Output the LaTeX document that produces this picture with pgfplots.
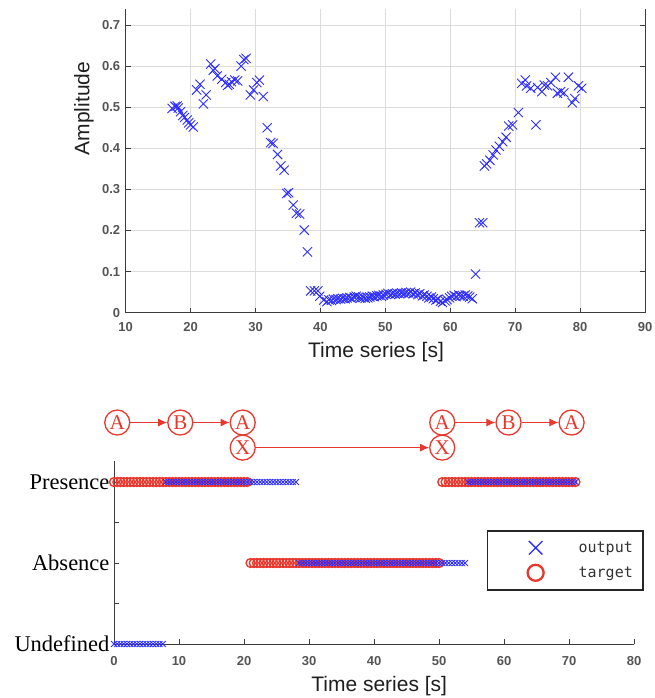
\documentclass[border=0pt]{standalone}
\usepackage{pgfplots}
\pgfplotsset{compat=1.18}
\usetikzlibrary{arrows.meta}
\usepackage{fontspec}
\setmainfont{Liberation Sans}
\newfontfamily\timesfont{Liberation Serif}
\newfontfamily\legfont{DejaVu Sans Mono}
\definecolor{mblue}{RGB}{45,45,255}
\definecolor{mred}{RGB}{232,56,46}
\definecolor{tickgray}{RGB}{85,85,85}
\definecolor{axgray}{RGB}{60,60,60}
\definecolor{gridgray}{RGB}{220,220,220}
\newcommand\tickfont{\fontsize{13}{13}\selectfont\bfseries}
\newcommand\labfont{\fontsize{21}{21}\selectfont}
\tikzset{st/.style={circle, draw=mred, line width=1.3pt, inner sep=0pt, minimum size=25pt, text=mred, font=\timesfont\fontsize{21}{21}\selectfont},
  arr/.style={mred, line width=1pt, -{Latex[length=9pt,width=8pt]}}}
\begin{document}
\begin{tikzpicture}
\useasboundingbox (0,0) rectangle (654pt,698pt);
% ---------------- top panel ----------------
\begin{axis}[
  at={(125.7pt,385.3pt)}, anchor=south west,
  scale only axis, width=519.3pt, height=304.1pt,
  xmin=10, xmax=90, ymin=0, ymax=0.74,
  xtick={10,20,30,40,50,60,70,80,90},
  ytick={0,0.1,0.2,0.3,0.4,0.5,0.6,0.7},
  axis x line*=bottom, axis y line*=box,
  tick align=inside, major tick length=5pt,
  axis line style={axgray, line width=1pt},
  every tick/.style={axgray, line width=0.8pt},
  grid=major, major grid style={gridgray, line width=0.7pt},
  /pgf/number format/assume math mode=true,
  /pgf/number format/fixed, /pgf/number format/precision=1,
  ticklabel style={font=\tickfont, text=tickgray},
  yticklabel style={xshift=-2pt},
  xticklabel style={yshift=-6.4pt},
  ylabel={Amplitude}, xlabel={Time series [s]},
  label style={font=\labfont, text=black!88},
  ylabel style={at={(axis description cs:-0.0803,0.671)}, anchor=center, rotate=0},
  xlabel style={at={(axis description cs:0.482,-0.129)}, anchor=center},
]
\addplot[only marks, mark=x, mark size=6.5pt, mblue, mark options={line width=0.9pt}] coordinates {
(17.15,0.497)(17.6,0.502)(17.93,0.503)(18.1,0.498)(18.45,0.489)(18.8,0.480)(19.07,0.475)(19.48,0.469)(19.7,0.462)(20.0,0.457)(20.4,0.452)
(20.93,0.542)(21.45,0.556)(21.97,0.508)(22.4,0.530)(23.1,0.605)(23.5,0.590)(23.75,0.594)(24.1,0.576)(24.8,0.568)(25.4,0.560)(25.7,0.553)(25.96,0.556)
(26.3,0.562)(26.8,0.566)(27.25,0.564)(27.77,0.600)(28.2,0.616)(28.55,0.619)(29.2,0.530)(29.7,0.542)(30.2,0.560)(30.6,0.566)(31.2,0.526)
(31.8,0.450)(32.33,0.414)(32.7,0.412)(33.4,0.385)(33.9,0.357)(34.4,0.347)(34.8,0.290)(35.1,0.292)(35.8,0.262)(36.3,0.242)(36.8,0.240)
(37.5,0.201)(38.0,0.148)(38.5,0.053)(39.07,0.053)(39.6,0.053)(39.9,0.040)(40.5,0.031)(41.0,0.027)
(41.3,0.031)(41.7,0.030)(42.0,0.033)(42.4,0.032)(42.7,0.034)(43.1,0.033)(43.4,0.035)(43.8,0.034)(44.1,0.036)(44.5,0.037)(44.8,0.035)
(45.2,0.038)(45.5,0.040)(45.9,0.038)(46.2,0.036)(46.6,0.037)(46.9,0.035)(47.3,0.036)(47.6,0.038)(48.0,0.040)(48.3,0.039)(48.7,0.041)
(49.0,0.042)(49.4,0.040)(49.7,0.043)(50.1,0.045)(50.4,0.047)(50.8,0.044)(51.1,0.046)(51.5,0.045)(51.8,0.047)(52.2,0.046)(52.5,0.048)
(52.9,0.047)(53.2,0.049)(53.6,0.048)(53.9,0.050)(54.3,0.046)(54.6,0.048)(55.0,0.044)(55.3,0.046)(55.7,0.041)(56.0,0.043)(56.4,0.040)
(56.7,0.036)(57.1,0.038)(57.4,0.034)(57.8,0.031)(58.1,0.033)(58.5,0.028)(58.8,0.025)(59.2,0.029)(59.5,0.032)(59.9,0.036)(60.2,0.040)
(60.6,0.042)(60.9,0.039)(61.3,0.043)(61.6,0.041)(62.0,0.040)(62.3,0.043)(62.7,0.041)(63.0,0.038)(63.4,0.034)
(63.9,0.094)(64.5,0.219)(65.0,0.219)(65.26,0.357)(65.6,0.362)(66.1,0.371)(66.6,0.384)(67.05,0.396)(67.56,0.405)(68.07,0.416)(68.6,0.427)
(69.0,0.454)(69.6,0.457)(70.5,0.487)(71.0,0.558)(71.55,0.566)(71.75,0.552)(72.4,0.546)(73.2,0.457)(73.45,0.548)(74.1,0.538)(74.5,0.554)
(75.0,0.552)(75.5,0.560)(76.2,0.573)(76.5,0.534)(77.0,0.538)(77.5,0.535)(78.2,0.573)(78.8,0.511)(79.2,0.521)(79.75,0.552)(80.26,0.546)
};
\end{axis}
% ---------------- bottom panel ----------------
\begin{axis}[
  at={(114pt,54pt)}, anchor=south west,
  scale only axis, width=520pt, height=183pt,
  xmin=0, xmax=80, ymin=0, ymax=2.26,
  axis lines*=left, clip=false,
  tick align=inside, major tick length=5pt,
  axis line style={axgray, line width=1pt},
  every tick/.style={axgray, line width=0.8pt},
  xtick={0,10,20,30,40,50,60,70,80},
  ytick={0,0.5,1,1.5,2},
  yticklabels={Undefined,,Absence,,Presence},
  /pgf/number format/assume math mode=true,
  xticklabel style={font=\tickfont, text=tickgray, yshift=-8.7pt},
  yticklabel style={font=\timesfont\fontsize{22.5}{22.5}\selectfont, text=black, xshift=-1pt},
  xlabel={Time series [s]},
  xlabel style={font=\labfont, text=black!88, at={(axis description cs:0.51,-0.2295)}, anchor=center},
  legend style={at={(axis description cs:0.717,0.623)}, anchor=north west,
    draw=black!85, line width=1.6pt, fill=white,
    inner xsep=8pt, inner ysep=4.5pt, row sep=0pt,
    font=\legfont\fontsize{15}{15}\selectfont, text=black!80,
    /tikz/every odd column/.append style={column sep=19pt}},
  legend image code/.code={\path[draw=none, fill=none] (0pt,-12.5pt) rectangle (62pt,12.5pt); \draw[#1] plot coordinates {(40pt,0pt)};},
  legend cell align=left,
]
\addlegendimage{only marks, mark=x, mark size=9.5pt, mblue, mark options={line width=1.3pt}}
\addlegendentry{output}
\addlegendimage{only marks, mark=o, mark size=8pt, mred, mark options={line width=2.3pt}}
\addlegendentry{target}
% target
\addplot[forget plot, only marks, mark=o, mark size=4.4pt, mred, mark options={line width=1.4pt}] coordinates {
(0,2)(0.5,2)(1,2)(1.5,2)(2,2)(2.5,2)(3,2)(3.5,2)(4,2)(4.5,2)(5,2)(5.5,2)(6,2)(6.5,2)(7,2)(7.5,2)(8,2)(8.5,2)(9,2)(9.5,2)
(10,2)(10.5,2)(11,2)(11.5,2)(12,2)(12.5,2)(13,2)(13.5,2)(14,2)(14.5,2)(15,2)(15.5,2)(16,2)(16.5,2)(17,2)(17.5,2)(18,2)(18.5,2)(19,2)(19.5,2)(20,2)(20.5,2)
(21,1)(21.5,1)(22,1)(22.5,1)(23,1)(23.5,1)(24,1)(24.5,1)(25,1)(25.5,1)(26,1)(26.5,1)(27,1)(27.5,1)(28,1)(28.5,1)(29,1)(29.5,1)
(30,1)(30.5,1)(31,1)(31.5,1)(32,1)(32.5,1)(33,1)(33.5,1)(34,1)(34.5,1)(35,1)(35.5,1)(36,1)(36.5,1)(37,1)(37.5,1)(38,1)(38.5,1)(39,1)(39.5,1)
(40,1)(40.5,1)(41,1)(41.5,1)(42,1)(42.5,1)(43,1)(43.5,1)(44,1)(44.5,1)(45,1)(45.5,1)(46,1)(46.5,1)(47,1)(47.5,1)(48,1)(48.5,1)(49,1)(49.5,1)(50,1)
(50.5,2)(51,2)(51.5,2)(52,2)(52.5,2)(53,2)(53.5,2)(54,2)(54.5,2)(55,2)(55.5,2)(56,2)(56.5,2)(57,2)(57.5,2)(58,2)(58.5,2)(59,2)(59.5,2)
(60,2)(60.5,2)(61,2)(61.5,2)(62,2)(62.5,2)(63,2)(63.5,2)(64,2)(64.5,2)(65,2)(65.5,2)(66,2)(66.5,2)(67,2)(67.5,2)(68,2)(68.5,2)(69,2)(69.5,2)(70,2)(70.5,2)(71,2)
};
% output
\addplot[forget plot, only marks, mark=x, mark size=4.2pt, mblue, mark options={line width=0.8pt}] coordinates {
(0,0)(0.5,0)(1,0)(1.5,0)(2,0)(2.5,0)(3,0)(3.5,0)(4,0)(4.5,0)(5,0)(5.5,0)(6,0)(6.5,0)(7,0)(7.5,0)
(8,2)(8.5,2)(9,2)(9.5,2)(10,2)(10.5,2)(11,2)(11.5,2)(12,2)(12.5,2)(13,2)(13.5,2)(14,2)(14.5,2)(15,2)(15.5,2)(16,2)(16.5,2)(17,2)(17.5,2)
(18,2)(18.5,2)(19,2)(19.5,2)(20,2)(20.5,2)(21,2)(21.5,2)(22,2)(22.5,2)(23,2)(23.5,2)(24,2)(24.5,2)(25,2)(25.5,2)(26,2)(26.5,2)(27,2)(27.5,2)(28,2)
(28.5,1)(29,1)(29.5,1)(30,1)(30.5,1)(31,1)(31.5,1)(32,1)(32.5,1)(33,1)(33.5,1)(34,1)(34.5,1)(35,1)(35.5,1)(36,1)(36.5,1)(37,1)(37.5,1)(38,1)(38.5,1)
(39,1)(39.5,1)(40,1)(40.5,1)(41,1)(41.5,1)(42,1)(42.5,1)(43,1)(43.5,1)(44,1)(44.5,1)(45,1)(45.5,1)(46,1)(46.5,1)(47,1)(47.5,1)(48,1)(48.5,1)
(49,1)(49.5,1)(50,1)(50.5,1)(51,1)(51.5,1)(52,1)(52.5,1)(53,1)(53.5,1)(54,1)
(54.5,2)(55,2)(55.5,2)(56,2)(56.5,2)(57,2)(57.5,2)(58,2)(58.5,2)(59,2)(59.5,2)(60,2)(60.5,2)(61,2)(61.5,2)(62,2)(62.5,2)
(63,2)(63.5,2)(64,2)(64.5,2)(65,2)(65.5,2)(66,2)(66.5,2)(67,2)(67.5,2)(68,2)(68.5,2)(69,2)(69.5,2)(70,2)(70.5,2)(71,2)
};
% state diagram
\node[st] (a1) at (axis cs:0.5,2.735) {A};
\node[st] (b1) at (axis cs:10.2,2.735) {B};
\node[st] (a2) at (axis cs:19.8,2.735) {A};
\node[st] (x1) at (axis cs:19.8,2.425) {X};
\node[st] (a3) at (axis cs:50.5,2.735) {A};
\node[st] (x2) at (axis cs:50.5,2.425) {X};
\node[st] (b2) at (axis cs:60.7,2.735) {B};
\node[st] (a4) at (axis cs:70.4,2.735) {A};
\draw[arr] (a1) -- (b1);
\draw[arr] (b1) -- (a2);
\draw[arr] (x1) -- (x2);
\draw[arr] (a3) -- (b2);
\draw[arr] (b2) -- (a4);
\end{axis}
\end{tikzpicture}
\end{document}
